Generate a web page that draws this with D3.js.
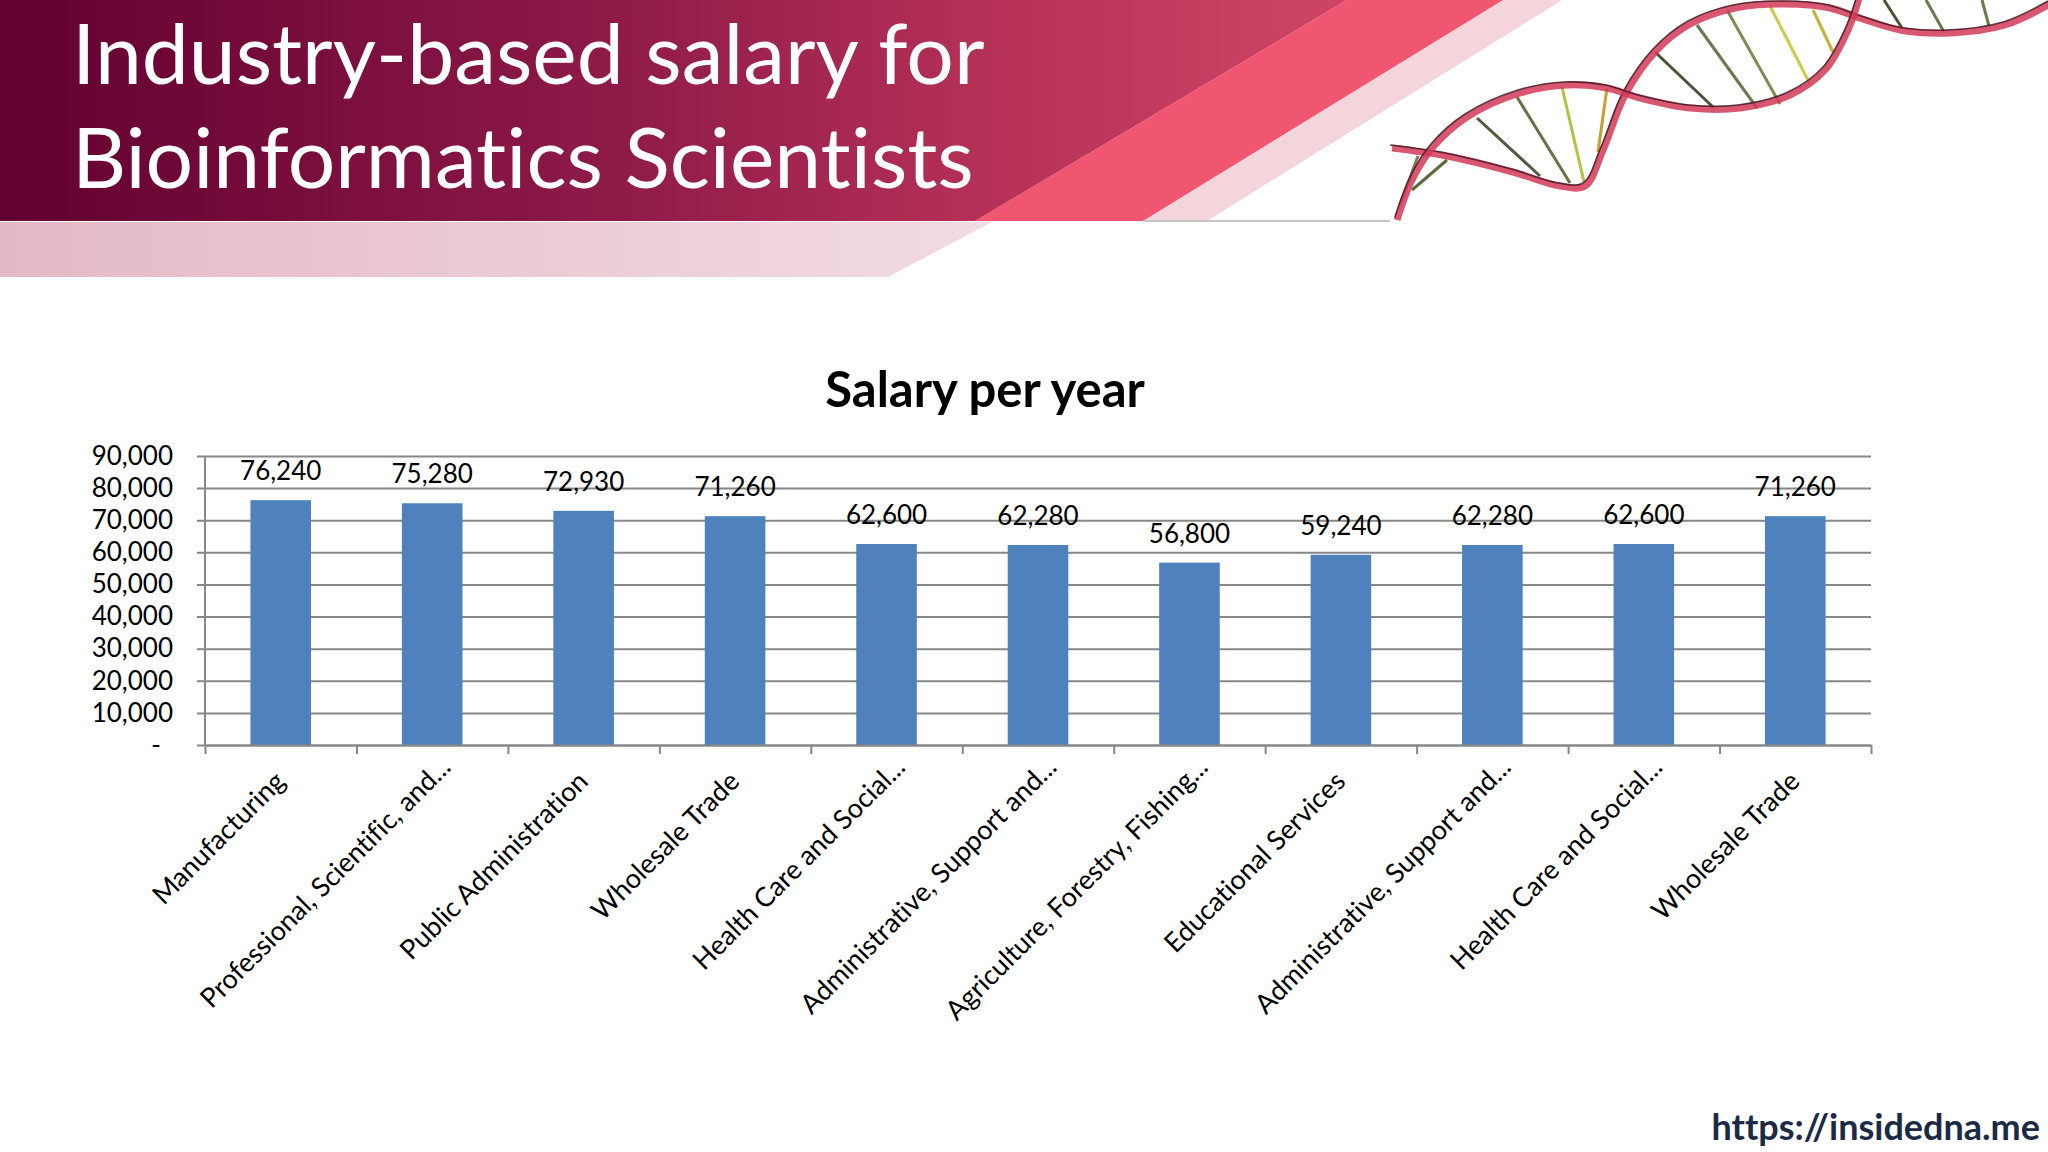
<!DOCTYPE html>
<html>
<head>
<meta charset="utf-8">
<script src="https://cdn.jsdelivr.net/npm/d3@7"></script>
<style>
  html, body { margin: 0; padding: 0; background: #fff; }
  svg { display: block; }
  text { font-family: Lato, "Open Sans", sans-serif; font-variant-ligatures: none; font-feature-settings: "liga" 0; }
</style>
</head>
<body>
<div id="chart"></div>
<script>
// Salary per year by industry
const categories = [
  'Manufacturing',
  'Professional, Scientific, and...',
  'Public Administration',
  'Wholesale Trade',
  'Health Care and Social...',
  'Administrative, Support and...',
  'Agriculture, Forestry, Fishing...',
  'Educational Services',
  'Administrative, Support and...',
  'Health Care and Social...',
  'Wholesale Trade'
];
const salaries = [76240, 75280, 72930, 71260, 62600, 62280, 56800, 59240, 62280, 62600, 71260];
const yTicks = [0, 10000, 20000, 30000, 40000, 50000, 60000, 70000, 80000, 90000];

const W = 2048, H = 1152;
const svg = d3.select('#chart').append('svg')
  .attr('width', W)
  .attr('height', H);

svg.append('rect').attr('width', W).attr('height', H).attr('fill', '#ffffff');

// ---- header banner ----
const defs = svg.append('defs');
const bandGrad = defs.append('linearGradient')
  .attr('id', 'bandGrad')
  .attr('gradientUnits', 'userSpaceOnUse')
  .attr('x1', 0).attr('y1', 0).attr('x2', 1350).attr('y2', 0);
bandGrad.append('stop').attr('offset', 0).attr('stop-color', '#62002f');
bandGrad.append('stop').attr('offset', 0.45).attr('stop-color', '#8e1a48');
bandGrad.append('stop').attr('offset', 0.75).attr('stop-color', '#b83258');
bandGrad.append('stop').attr('offset', 1).attr('stop-color', '#cf4565');

const stripGrad = defs.append('linearGradient')
  .attr('id', 'stripGrad')
  .attr('gradientUnits', 'userSpaceOnUse')
  .attr('x1', 0).attr('y1', 0).attr('x2', 990).attr('y2', 0);
stripGrad.append('stop').attr('offset', 0).attr('stop-color', '#e4b9c6');
stripGrad.append('stop').attr('offset', 1).attr('stop-color', '#f2dbe1');

const header = svg.append('g').attr('class', 'header');
header.append('path')
  .attr('d', 'M0,222 L992,222 L888,277 L0,277 Z')
  .attr('fill', 'url(#stripGrad)');
header.append('path')
  .attr('d', 'M1503,0 L1562,0 L1207,221 L1143,221 Z')
  .attr('fill', '#f4d5dc');
header.append('path')
  .attr('d', 'M1347,0 L1503,0 L1143,221 L975,221 Z')
  .attr('fill', '#f0566f');
header.append('path')
  .attr('d', 'M0,0 L1347,0 L975,221 L0,221 Z')
  .attr('fill', 'url(#bandGrad)');
header.append('line')
  .attr('x1', 1143).attr('x2', 1390).attr('y1', 221).attr('y2', 221)
  .attr('stroke', '#c9c3c5').attr('stroke-width', 2);

header.append('text')
  .attr('x', 72).attr('y', 84)
  .attr('fill', '#ffffff')
  .style('font-size', '84px')
  .text('Industry-based salary for');
header.append('text')
  .attr('x', 72).attr('y', 188)
  .attr('fill', '#ffffff')
  .style('font-size', '84px')
  .text('Bioinformatics Scientists');

// ---- DNA decoration (hand-traced) ----
const helix = svg.append('g').attr('class', 'helix');
const strandLine = d3.line().curve(d3.curveCatmullRom.alpha(0.5));
const strandA = [[1397,220],[1412,180],[1433,147],[1467,117],[1520,93],[1567,85],[1607,88],
  [1640,98],[1690,108],[1740,108],[1790,95],[1825,70],[1848,30],[1860,-5]];
const strandB = [[1392,148],[1447,156],[1513,172],[1560,186],[1585,186],[1603,150],[1625,95],
  [1655,52],[1690,24],[1735,8],[1785,4],[1830,8],[1860,18],[1900,30],[1950,33],[2005,25],[2050,4]];
const rungs = [
  [[1418,156],[1400,205],'#7a7a52'], [[1447,160],[1412,190],'#5c6a3c'],
  [[1477,118],[1540,176],'#55583f'], [[1517,97],[1570,183],'#6a7048'],
  [[1562,87],[1584,182],'#b7c040'], [[1607,88],[1598,152],'#c8a030'],
  [[1655,52],[1713,107],'#4a5238'], [[1697,25],[1757,108],'#6a7a50'],
  [[1727,10],[1780,104],'#7f8a55'], [[1770,6],[1810,84],'#c9cd4a'],
  [[1813,10],[1833,52],'#c8b236'], [[1884,0],[1902,28],'#4a5238'],
  [[1926,0],[1944,32],'#6a7a50'], [[1982,0],[1989,26],'#6a7a50']
];
helix.selectAll('.rung')
  .data(rungs)
  .enter().append('line')
  .attr('class', 'rung')
  .attr('x1', d => d[0][0]).attr('y1', d => d[0][1])
  .attr('x2', d => d[1][0]).attr('y2', d => d[1][1])
  .attr('stroke', d => d[2])
  .attr('stroke-width', 3);
[strandB, strandA].forEach(pts => {
  helix.append('path')
    .attr('d', strandLine(pts))
    .attr('fill', 'none')
    .attr('stroke', '#d23a58')
    .attr('stroke-width', 7)
    .attr('stroke-opacity', 0.85);
  helix.append('path')
    .attr('d', strandLine(pts))
    .attr('transform', 'translate(-2,-3)')
    .attr('fill', 'none')
    .attr('stroke', '#3c1822')
    .attr('stroke-width', 1.6)
    .attr('stroke-opacity', 0.8);
});

// ---- chart ----
const plot = { left: 205, right: 1871, top: 456, bottom: 745 };

const xScale = d3.scaleBand()
  .domain(d3.range(categories.length))
  .range([plot.left, plot.right])
  .paddingInner(0.6)
  .paddingOuter(0.3);

const xTickScale = d3.scaleLinear()
  .domain([0, categories.length])
  .range([plot.left, plot.right]);

const yScale = d3.scaleLinear()
  .domain([0, 90000])
  .range([plot.bottom, plot.top]);

const g = svg.append('g').attr('class', 'chart');

// Chart title
g.append('text')
  .attr('x', 985)
  .attr('y', 407)
  .attr('text-anchor', 'middle')
  .style('font-size', '49px')
  .style('font-weight', 'bold')
  .attr('fill', '#000')
  .text('Salary per year');

// Gridlines (extend left of the axis as tick marks)
const grid = g.append('g')
  .attr('class', 'grid')
  .attr('transform', `translate(${plot.left - 8},0)`)
  .call(d3.axisLeft(yScale)
    .tickValues(yTicks)
    .tickSize(-(plot.right - plot.left + 8))
    .tickFormat(''));
grid.select('.domain').remove();
grid.selectAll('.tick line')
  .attr('stroke', '#878787')
  .attr('stroke-width', 2);

// Y labels
const yAxis = g.append('g')
  .attr('class', 'y-axis')
  .attr('transform', `translate(${plot.left - 8},0)`)
  .call(d3.axisLeft(yScale)
    .tickValues(yTicks)
    .tickSize(0)
    .tickPadding(24)
    .tickFormat(d => d === 0 ? '-' : d3.format(',')(d)));
yAxis.select('.domain').remove();
yAxis.selectAll('.tick text')
  .style('font-size', '26px')
  .style('font-family', 'Lato, sans-serif')
  .attr('fill', '#000')
  .attr('dx', d => d === 0 ? -12 : 0);

// Vertical axis line
g.append('line')
  .attr('x1', plot.left).attr('x2', plot.left)
  .attr('y1', plot.top).attr('y2', plot.bottom)
  .attr('stroke', '#878787')
  .attr('stroke-width', 2);

// Bars
g.selectAll('.bar')
  .data(salaries)
  .enter().append('rect')
  .attr('class', 'bar')
  .attr('x', (d, i) => xScale(i))
  .attr('width', xScale.bandwidth())
  .attr('y', d => yScale(d))
  .attr('height', d => plot.bottom - yScale(d))
  .attr('fill', '#4f81bd');

// Bottom axis with category boundary ticks
const xAxis = g.append('g')
  .attr('class', 'x-axis')
  .attr('transform', `translate(0,${plot.bottom})`)
  .call(d3.axisBottom(xTickScale)
    .ticks(categories.length)
    .tickSizeInner(9)
    .tickSizeOuter(0)
    .tickFormat(''));
xAxis.select('.domain').attr('stroke', '#878787').attr('stroke-width', 2);
xAxis.selectAll('.tick line').attr('stroke', '#878787').attr('stroke-width', 2);

// Rotated category labels (truncated ones sit a bit further out)
g.selectAll('.cat-label')
  .data(categories)
  .enter().append('text')
  .attr('class', 'cat-label')
  .attr('transform', (d, i) => `translate(${xScale(i) + xScale.bandwidth() / 2 + 6},${plot.bottom + 38}) rotate(-45)`)
  .attr('text-anchor', 'end')
  .attr('dx', d => d.endsWith('...') ? 20 : 0)
  .style('font-size', '27px')
  .attr('fill', '#000')
  .text(d => d);

// Data labels
g.selectAll('.value-label')
  .data(salaries)
  .enter().append('text')
  .attr('class', 'value-label')
  .attr('x', (d, i) => xScale(i) + xScale.bandwidth() / 2)
  .attr('y', d => yScale(d) - 20)
  .attr('text-anchor', 'middle')
  .style('font-size', '26px')
  .attr('fill', '#000')
  .text(d => d3.format(',')(d));

// Footer URL
svg.append('text')
  .attr('x', 2040)
  .attr('y', 1140)
  .attr('text-anchor', 'end')
  .style('font-size', '36px')
  .style('font-weight', 'bold')
  .attr('fill', '#1c2a45')
  .text('https://insidedna.me');
</script>
</body>
</html>
